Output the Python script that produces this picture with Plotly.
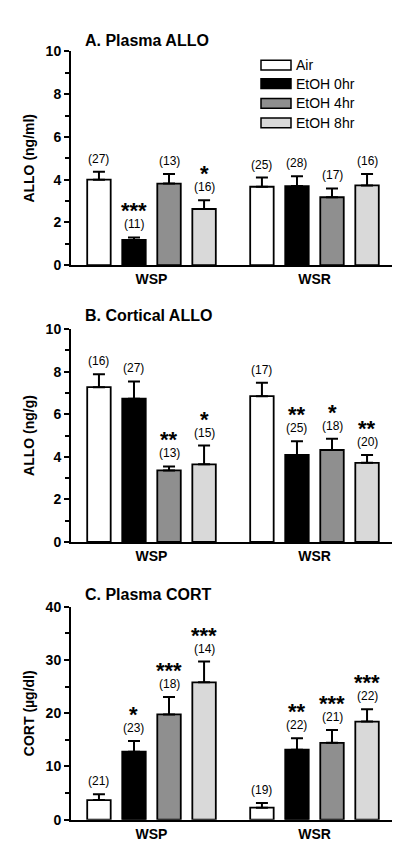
import plotly.graph_objects as go

# ---------------- data ----------------
groups = ["WSP", "WSR"]
series = ["Air", "EtOH 0hr", "EtOH 4hr", "EtOH 8hr"]
colors = ["#ffffff", "#000000", "#8f8f8f", "#d9d9d9"]

# Panel A: Plasma ALLO (ng/ml)  -> [WSP, WSR] per series
a_vals = {"Air": [4.0, 3.67], "EtOH 0hr": [1.18, 3.70], "EtOH 4hr": [3.82, 3.18], "EtOH 8hr": [2.63, 3.73]}
a_err = {"Air": [0.37, 0.43], "EtOH 0hr": [0.12, 0.46], "EtOH 4hr": [0.45, 0.41], "EtOH 8hr": [0.41, 0.54]}
a_n = {"Air": ["(27)", "(25)"], "EtOH 0hr": ["(11)", "(28)"], "EtOH 4hr": ["(13)", "(17)"], "EtOH 8hr": ["(16)", "(16)"]}
a_sig = {"Air": ["", ""], "EtOH 0hr": ["***", ""], "EtOH 4hr": ["", ""], "EtOH 8hr": ["*", ""]}

# Panel B: Cortical ALLO (ng/g)
b_vals = {"Air": [7.27, 6.85], "EtOH 0hr": [6.73, 4.09], "EtOH 4hr": [3.36, 4.32], "EtOH 8hr": [3.65, 3.72]}
b_err = {"Air": [0.61, 0.63], "EtOH 0hr": [0.81, 0.64], "EtOH 4hr": [0.19, 0.53], "EtOH 8hr": [0.88, 0.37]}
b_n = {"Air": ["(16)", "(17)"], "EtOH 0hr": ["(27)", "(25)"], "EtOH 4hr": ["(13)", "(18)"], "EtOH 8hr": ["(15)", "(20)"]}
b_sig = {"Air": ["", ""], "EtOH 0hr": ["", "**"], "EtOH 4hr": ["**", "*"], "EtOH 8hr": ["*", "**"]}

# Panel C: Plasma CORT (ug/dl)
c_vals = {"Air": [3.69, 2.27], "EtOH 0hr": [12.77, 13.14], "EtOH 4hr": [19.78, 14.45], "EtOH 8hr": [25.8, 18.43]}
c_err = {"Air": [1.1, 0.86], "EtOH 0hr": [2.0, 2.15], "EtOH 4hr": [3.26, 2.4], "EtOH 8hr": [3.9, 2.3]}
c_n = {"Air": ["(21)", "(19)"], "EtOH 0hr": ["(23)", "(22)"], "EtOH 4hr": ["(18)", "(21)"], "EtOH 8hr": ["(14)", "(22)"]}
c_sig = {"Air": ["", ""], "EtOH 0hr": ["*", "**"], "EtOH 4hr": ["***", "***"], "EtOH 8hr": ["***", "***"]}

panels = [
    dict(title="A. Plasma ALLO", ytitle="ALLO (ng/ml)", vals=a_vals, err=a_err, n=a_n, sig=a_sig,
         yrange=[0, 10], dtick=2, minor=1),
    dict(title="B. Cortical ALLO", ytitle="ALLO (ng/g)", vals=b_vals, err=b_err, n=b_n, sig=b_sig,
         yrange=[0, 10], dtick=2, minor=1),
    dict(title="C. Plasma CORT", ytitle="CORT (\u00b5g/dl)", vals=c_vals, err=c_err, n=c_n, sig=c_sig,
         yrange=[0, 40], dtick=10, minor=5),
]

# ---------------- layout constants ----------------
W, H = 400, 858
FONT = "Arial, Liberation Sans, sans-serif"
x_dom = [63 / W, 387 / W]
# pixel (top, bottom) of each plot area
panel_px = [(36, 254), (319, 536), (602, 819)]
title_px = [25, 305, 590]
bargap = 0.14
bargroupgap = 0.33
slot = (1 - bargap) / len(series)

fig = go.Figure()
annotations = []
shapes = []

for p, panel in enumerate(panels):
    xa = "x" if p == 0 else f"x{p + 1}"
    ya = "y" if p == 0 else f"y{p + 1}"
    for i, s in enumerate(series):
        fig.add_trace(go.Bar(
            x=groups, y=panel["vals"][s], name=s, showlegend=False,
            marker=dict(color=colors[i], line=dict(color="black", width=1.8)),
            error_y=dict(type="data", array=panel["err"][s], arrayminus=[0] * len(groups),
                         symmetric=False, color="black", thickness=2, width=6),
            xaxis=xa, yaxis=ya,
        ))
        for g in range(len(groups)):
            xpos = g + (i - (len(series) - 1) / 2) * slot
            top = panel["vals"][s][g] + panel["err"][s][g]
            annotations.append(dict(
                x=xpos, y=top, xref=xa, yref=ya, text=panel["n"][s][g], showarrow=False,
                yanchor="bottom", yshift=4, font=dict(family=FONT, size=12, color="black")))
            if panel["sig"][s][g]:
                annotations.append(dict(
                    x=xpos, y=top, xref=xa, yref=ya, text=panel["sig"][s][g], showarrow=False,
                    yanchor="bottom", yshift=12, font=dict(family=FONT, size=22, color="black", weight="bold")))
    top_px, bot_px = panel_px[p]
    y_dom = [1 - bot_px / H, 1 - top_px / H]
    xkey = "xaxis" if p == 0 else f"xaxis{p + 1}"
    ykey = "yaxis" if p == 0 else f"yaxis{p + 1}"
    fig.update_layout(**{
        xkey: dict(domain=x_dom, anchor=ya, range=[-0.494, 1.494], type="category",
                   showline=True, linecolor="black", linewidth=2, ticks="", showgrid=False,
                   tickfont=dict(family=FONT, size=14, color="black", weight="bold"),
                   zeroline=False),
        ykey: dict(domain=y_dom, anchor=xa, range=panel["yrange"], dtick=panel["dtick"],
                   showline=True, linecolor="black", linewidth=2, ticks="outside", ticklen=5,
                   tickwidth=2, tickcolor="black", showgrid=False, zeroline=False,
                   minor=dict(dtick=panel["minor"], ticks="outside", ticklen=4, tickwidth=1.5,
                              tickcolor="black", showgrid=False),
                   tickfont=dict(family=FONT, size=14, color="black", weight="bold"),
                   title=dict(text=panel["ytitle"], standoff=8,
                              font=dict(family=FONT, size=14, color="black", weight="bold"))),
    })
    annotations.append(dict(
        x=75 / W, y=1 - title_px[p] / H, xref="paper", yref="paper", text=panel["title"],
        showarrow=False, xanchor="left", yanchor="middle",
        font=dict(family=FONT, size=16, color="black", weight="bold")))

# legend (panel A), drawn as boxes + text
legend_rows_px = [50, 69, 89, 109]
for i, s in enumerate(series):
    yc = legend_rows_px[i]
    shapes.append(dict(type="rect", xref="paper", yref="paper",
                       x0=253 / W, x1=283 / W, y0=1 - (yc + 5) / H, y1=1 - (yc - 5) / H,
                       fillcolor=colors[i], line=dict(color="black", width=1.5)))
    annotations.append(dict(x=286 / W, y=1 - yc / H, xref="paper", yref="paper", text=s,
                            showarrow=False, xanchor="left", yanchor="middle",
                            font=dict(family=FONT, size=14, color="black")))

fig.update_layout(
    width=W, height=H, margin=dict(l=0, r=0, t=0, b=0),
    paper_bgcolor="white", plot_bgcolor="white",
    barmode="group", bargap=bargap, bargroupgap=bargroupgap,
    annotations=annotations, shapes=shapes, showlegend=False,
)

fig.write_html("out.html")
